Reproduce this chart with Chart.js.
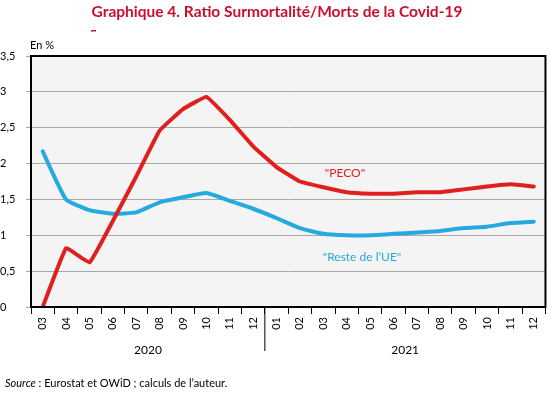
<!DOCTYPE html>
<html>
<head>
<meta charset="utf-8">
<script src="https://cdn.jsdelivr.net/npm/chart.js@4"></script>
<style>
  html, body { margin: 0; padding: 0; background: #fff; }
  #wrap { width: 550px; height: 393px; position: relative; }
</style>
</head>
<body>
<div id="wrap"><canvas id="c" width="550" height="393"></canvas></div>
<script>
// mois (03/2020 -> 12/2021)
const months = ['03','04','05','06','07','08','09','10','11','12',
                '01','02','03','04','05','06','07','08','09','10','11','12'];
const years = ['2020', '2021'];
const yTicks = [0, 0.5, 1, 1.5, 2, 2.5, 3, 3.5];

// "PECO"
const peco = [0, 0.82, 0.62, 1.2, 1.82, 2.46, 2.76, 2.93, 2.61, 2.24,
              1.95, 1.75, 1.67, 1.6, 1.58, 1.58, 1.6, 1.6, 1.64, 1.68, 1.71, 1.68];
// "Reste de l'UE"
const resteUE = [2.17, 1.5, 1.35, 1.3, 1.32, 1.46, 1.53, 1.59, 1.48, 1.37,
                 1.24, 1.1, 1.02, 1.0, 1.0, 1.02, 1.04, 1.06, 1.1, 1.12, 1.17, 1.19];

const RED = '#e0201f';
const BLUE = '#25a9df';
const TITLE = '#c8102e';
const FONT = 'Lato, "Open Sans", sans-serif';

// fond gris, cadre, titre, étiquettes
const decor = {
  id: 'decor',
  beforeDraw(chart) {
    const { ctx, chartArea: a } = chart;
    ctx.save();
    ctx.fillStyle = '#f4f4f4';
    ctx.fillRect(a.left, a.top, a.right - a.left, a.bottom - a.top);
    ctx.restore();
  },
  afterDraw(chart) {
    const { ctx, chartArea: a, scales } = chart;
    const x = scales.x;
    ctx.save();
    // cadre
    ctx.strokeStyle = '#000';
    ctx.lineWidth = 2;
    ctx.strokeRect(a.left, a.top, a.right - a.left, a.bottom - a.top);

    // titre
    ctx.fillStyle = TITLE;
    ctx.font = 'bold 15.5px ' + FONT;
    ctx.textAlign = 'center';
    ctx.textBaseline = 'middle';
    ctx.fillText('Graphique 4. Ratio Surmortalité/Morts de la Covid-19', 277, 12);
    ctx.fillRect(91, 30, 5, 1.5);

    // unité
    ctx.fillStyle = '#000';
    ctx.font = '11px ' + FONT;
    ctx.textAlign = 'left';
    ctx.fillText('En %', 30, 45);

    // séparateur des années
    const sep = (x.getPixelForValue(9) + x.getPixelForValue(10)) / 2;
    ctx.strokeStyle = '#000';
    ctx.lineWidth = 1;
    ctx.beginPath();
    ctx.moveTo(sep, a.bottom);
    ctx.lineTo(sep, 351);
    ctx.stroke();

    // années
    ctx.font = '12px ' + FONT;
    ctx.textAlign = 'center';
    ctx.fillText(years[0], (x.getPixelForValue(0) + x.getPixelForValue(9)) / 2, 350);
    ctx.fillText(years[1], (x.getPixelForValue(10) + x.getPixelForValue(21)) / 2, 350);

    // étiquettes des séries
    ctx.font = '12px ' + FONT;
    ctx.fillStyle = RED;
    ctx.fillText('"PECO"', 345, 173);
    ctx.fillStyle = BLUE;
    ctx.fillText('"Reste de l\u2019UE"', 362, 257);

    // source
    ctx.fillStyle = '#000';
    ctx.font = 'italic 11px ' + FONT;
    ctx.textAlign = 'left';
    ctx.fillText('Source', 5, 383);
    const w = ctx.measureText('Source').width;
    ctx.font = '11px ' + FONT;
    ctx.fillText(' : Eurostat et OWiD ; calculs de l\u2019auteur.', 5 + w, 383);
    ctx.restore();
  }
};

new Chart(document.getElementById('c'), {
  type: 'line',
  data: {
    labels: months,
    datasets: [
      { label: '"PECO"', data: peco, borderColor: RED, borderWidth: 4,
        pointRadius: 0, tension: 0.08, borderJoinStyle: 'round', borderCapStyle: 'round' },
      { label: '"Reste de l\'UE"', data: resteUE, borderColor: BLUE, borderWidth: 4,
        pointRadius: 0, tension: 0.15, borderJoinStyle: 'round', borderCapStyle: 'round' }
    ]
  },
  options: {
    responsive: false,
    animation: false,
    events: [],
    layout: { padding: { top: 56, right: 1, left: 0, bottom: 0 } },
    plugins: { legend: { display: false }, tooltip: { enabled: false } },
    scales: {
      x: {
        offset: true,
        afterFit: s => { s.height = 86; },
        grid: { offset: true, drawOnChartArea: false, drawTicks: true, tickLength: 7, color: '#000', lineWidth: 1 },
        border: { display: false },
        ticks: {
          autoSkip: false, maxRotation: 90, minRotation: 90,
          color: '#000', font: { family: FONT, size: 11 }, padding: 3
        }
      },
      y: {
        min: 0, max: 3.5,
        afterFit: s => { s.width = 31; },
        afterBuildTicks: s => { s.ticks = yTicks.map(v => ({ value: v })); },
        grid: { color: '#a8a8a8', lineWidth: 1, tickLength: 5, drawTicks: true },
        border: { display: false },
        ticks: {
          color: '#000', font: { family: FONT, size: 11 }, crossAlign: 'far', padding: 3,
          callback: v => String(v).replace('.', ',')
        }
      }
    }
  },
  plugins: [decor]
});
</script>
</body>
</html>
